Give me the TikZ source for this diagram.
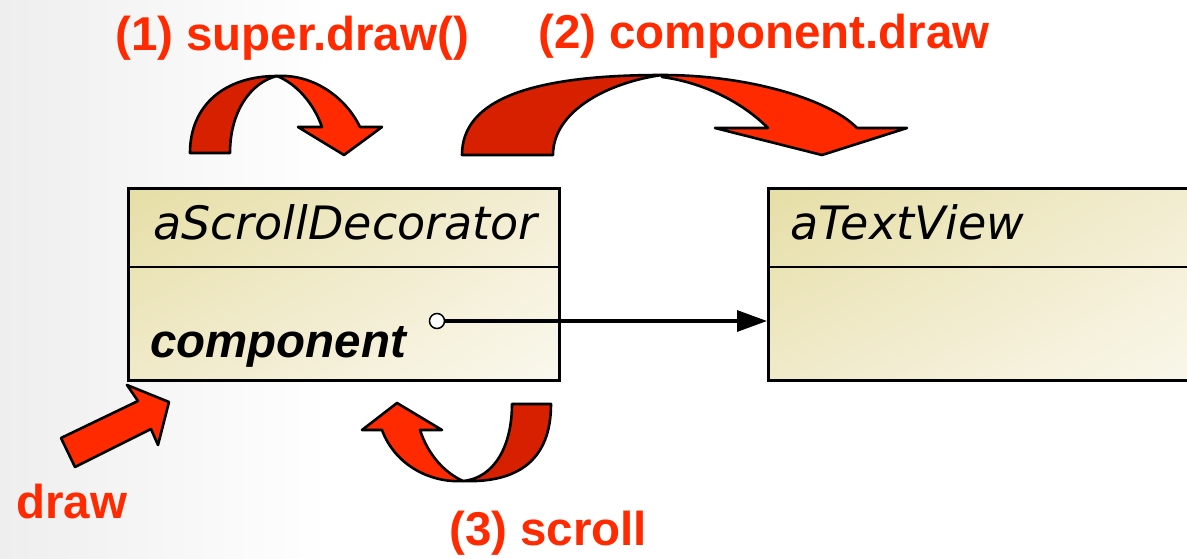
\documentclass[tikz,border=0pt]{standalone}
\usepackage{fontspec}
\setmainfont{Liberation Sans}
\newfontfamily\titlefont{DejaVu Sans}
\usetikzlibrary{arrows.meta,shadings}
\definecolor{redtxt}{RGB}{255,42,0}
\definecolor{reddark}{RGB}{214,32,0}
\definecolor{bgg}{RGB}{238,238,238}
\definecolor{boxul}{RGB}{230,222,166}
\definecolor{boxur}{RGB}{243,238,212}
\definecolor{boxll}{RGB}{240,234,202}
\definecolor{boxlr}{RGB}{250,248,237}
\tikzset{
  umlbox/.style={draw=black, line width=2.8pt, shade, upper left=boxul, upper right=boxur,
    lower left=boxll, lower right=boxlr, inner sep=0pt},
  boxline/.style={draw=black, line width=2.8pt},
  redlbl/.style={text=redtxt, font=\fontsize{47.5}{50}\selectfont\bfseries, inner sep=0pt, anchor=base west},
  titlelbl/.style={font=\titlefont\itshape\fontsize{46}{50}\selectfont, inner sep=0pt, anchor=base west},
  attrlbl/.style={font=\bfseries\itshape\fontsize{47.5}{50}\selectfont, inner sep=0pt, anchor=base west},
  darkband/.style={fill=reddark, draw=black, line width=2.6pt, line join=round},
  brightband/.style={fill=redtxt, draw=black, line width=2.6pt, line join=round},
  conn/.style={draw=black, line width=3.2pt, -{Triangle[length=30pt,width=21pt]}},
  dotnode/.style={circle, draw=black, line width=1.5pt, fill=white, minimum size=15pt, inner sep=0pt}
}
\begin{document}
\begin{tikzpicture}[x=1pt,y=-1pt]
\useasboundingbox (0,0) rectangle (1187,558);
\clip (0,0) rectangle (1187,558);
\fill[white] (0,0) rectangle (1187,558);
\shade[left color=bgg, right color=white] (0,0) rectangle (330,558);

% boxes
\node[umlbox, minimum width=431pt, minimum height=192pt, anchor=north west] (dec) at (127,187) {};
\draw[boxline] ([yshift=-80pt]dec.north west) -- ([yshift=-80pt]dec.north east);
\node[umlbox, minimum width=460pt, minimum height=192pt, anchor=north west] (tv) at (767,187) {};
\draw[boxline] ([yshift=-80pt]tv.north west) -- ([yshift=-80pt]tv.north east);

\node[titlelbl] (decname) at (153,239) {aScrollDecorator};
\node[titlelbl] (tvname) at (790,239) {aTextView};
\node[attrlbl] (comp) at (150,357) {component};

% association
\node[dotnode] (dot) at (437,321) {};
\draw[conn] (dot) -- (dot -| tv.west);

% arrow (1)
\path[darkband] (190,153) .. controls (190,105) and (225,76) .. (277,76)
  .. controls (252,82) and (230,110) .. (230,153) -- cycle;
\path[brightband] (277,76) .. controls (312,74) and (345,96) .. (360,127)
  -- (382,127) -- (344,155) -- (298,127) -- (322,127)
  .. controls (314,104) and (297,84) .. (277,76) -- cycle;

% arrow (2)
\path[darkband] (462,155) .. controls (462,100) and (530,75) .. (662,75)
  .. controls (610,82) and (553,110) .. (553,155) -- cycle;
\path[brightband] (662,75) .. controls (750,75) and (830,100) .. (857,128)
  -- (907,128) -- (822,155) -- (715,128) -- (768,128)
  .. controls (740,100) and (700,82) .. (662,77) -- cycle;

% arrow (3)
\path[darkband] (551,404) .. controls (551,460) and (518,483) .. (463,481)
  .. controls (495,478) and (512,445) .. (512,404) -- cycle;
\path[brightband] (463,481) .. controls (430,483) and (395,465) .. (382,430)
  -- (362,430) -- (397,403) -- (442,430) -- (420,430)
  .. controls (428,455) and (445,473) .. (463,481) -- cycle;

% arrow draw
\path[brightband] (61,438) -- (138,401) -- (127,385) -- (169,402) -- (158,445) -- (151,429) -- (75,467) -- cycle;

% labels
\node[redlbl] (l1) at (115,50) {(1) super.draw()};
\node[redlbl] (l2) at (538,48) {(2) component.draw};
\node[redlbl] (l3) at (449,545) {(3) scroll};
\node[redlbl] (l4) at (16,518) {draw};
\end{tikzpicture}
\end{document}
